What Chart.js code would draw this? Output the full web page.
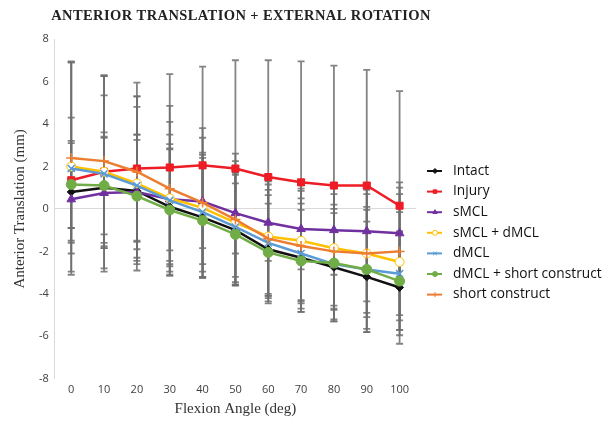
<!DOCTYPE html>
<html>
<head>
<meta charset="utf-8">
<script src="https://cdn.jsdelivr.net/npm/chart.js@4.4.1/dist/chart.umd.min.js"></script>
<style>
  html, body { margin: 0; padding: 0; background: #fff; }
  #wrap { width: 616px; height: 424px; }
</style>
</head>
<body>
<div id="wrap"><canvas id="chart" width="616" height="424"></canvas></div>
<script>
// Flexion angles (deg)
const angles = ['0', '10', '20', '30', '40', '50', '60', '70', '80', '90', '100'];

// Mean anterior translation (mm)
const intact       = [0.8, 1.0, 0.85, 0.1, -0.4, -1.0, -1.9, -2.3, -2.75, -3.2, -3.7];
const injury       = [1.35, 1.75, 1.9, 1.95, 2.05, 1.9, 1.5, 1.25, 1.1, 1.1, 0.15];
const smcl         = [0.45, 0.75, 0.8, 0.45, 0.35, -0.2, -0.65, -0.95, -1.0, -1.05, -1.15];
const smclDmcl     = [2.0, 1.75, 1.2, 0.5, 0.05, -0.65, -1.3, -1.5, -1.85, -2.1, -2.5];
const dmcl         = [1.9, 1.65, 1.1, 0.4, -0.15, -0.85, -1.6, -2.1, -2.6, -2.85, -3.05];
const dmclShort    = [1.15, 1.1, 0.6, -0.05, -0.55, -1.2, -2.05, -2.45, -2.55, -2.85, -3.4];
const shortConstr  = [2.4, 2.25, 1.75, 0.95, 0.3, -0.5, -1.4, -1.75, -2.0, -2.1, -2.0];

// Standard deviations (mm)
const intactSd      = [2.3, 2.6, 2.4, 2.7, 2.8, 2.6, 2.55, 2.55, 2.55, 2.6, 2.65];
const injurySd      = [2.95, 3.6, 3.4, 4.4, 4.65, 5.1, 5.5, 5.7, 5.65, 5.45, 5.4];
const smclSd        = [1.35, 2.6, 2.7, 2.4, 2.2, 1.9, 1.8, 1.9, 2.1, 2.2, 2.4];
const smclDmclSd    = [4.95, 4.55, 4.1, 3.6, 3.3, 2.9, 2.9, 2.8, 2.9, 3.0, 3.2];
const dmclSd        = [5.0, 4.6, 3.7, 3.1, 2.8, 2.6, 2.5, 2.6, 2.6, 2.8, 2.9];
const dmclShortSd   = [2.05, 2.3, 2.9, 3.1, 2.7, 2.4, 2.3, 2.4, 2.75, 2.95, 2.3];
const shortConstrSd = [4.5, 4.0, 4.2, 3.9, 3.5, 3.1, 2.7, 2.6, 2.7, 2.8, 3.0];

const yTicks = [-8, -6, -4, -2, 0, 2, 4, 6, 8];

function series(label, data, sd, color, style, radius, fill) {
    return {
        label: label,
        data: data,
        sd: sd,
        borderColor: color,
        backgroundColor: color,
        borderWidth: 2.5,
        pointStyle: style,
        pointRadius: radius,
        pointBorderColor: color,
        pointBackgroundColor: fill,
        pointBorderWidth: style === 'crossRot' || style === 'cross' ? 1.5 : 1,
        tension: 0
    };
}

const datasets = [
    series('Intact', intact, intactSd, '#111111', 'rectRot', 4, '#111111'),
    series('Injury', injury, injurySd, '#EE1C25', 'rect', 5, '#EE1C25'),
    series('sMCL', smcl, smclSd, '#7030A0', 'triangle', 5, '#7030A0'),
    series('sMCL + dMCL', smclDmcl, smclDmclSd, '#FFC000', 'circle', 4.5, '#ffffff'),
    series('dMCL', dmcl, dmclSd, '#5B9BD5', 'crossRot', 5, '#5B9BD5'),
    series('dMCL + short construct', dmclShort, dmclShortSd, '#70AD47', 'circle', 5, '#70AD47'),
    series('short construct', shortConstr, shortConstrSd, '#ED7D31', 'cross', 5, '#ED7D31')
];
// later series on top, as in the original
datasets.forEach((d, i) => { d.order = datasets.length - i; });

// error bars drawn under the lines
const errorBars = {
    id: 'errorBars',
    beforeDatasetsDraw(chart) {
        const ctx = chart.ctx;
        const x = chart.scales.x, y = chart.scales.y;
        ctx.save();
        ctx.strokeStyle = 'rgba(110,110,110,0.85)';
        ctx.lineWidth = 1.8;
        chart.data.datasets.forEach(ds => {
            ds.data.forEach((v, i) => {
                const px = x.getPixelForValue(i);
                const top = y.getPixelForValue(v + ds.sd[i]);
                const bot = y.getPixelForValue(v - ds.sd[i]);
                ctx.beginPath();
                ctx.moveTo(px, top); ctx.lineTo(px, bot);
                ctx.moveTo(px - 3.5, top); ctx.lineTo(px + 3.5, top);
                ctx.moveTo(px - 3.5, bot); ctx.lineTo(px + 3.5, bot);
                ctx.stroke();
            });
        });
        ctx.restore();
    }
};

// title and legend in the style of the original
const decorations = {
    id: 'decorations',
    afterDraw(chart) {
        const ctx = chart.ctx;
        ctx.save();
        ctx.fillStyle = '#222';
        ctx.font = 'bold 14.5px "Liberation Serif"';
        ctx.letterSpacing = '0.4px';
        ctx.textAlign = 'center';
        ctx.textBaseline = 'middle';
        ctx.fillText('ANTERIOR TRANSLATION + EXTERNAL ROTATION', 241, 16);
        ctx.letterSpacing = '0px';

        ctx.textAlign = 'left';
        ctx.font = '13.7px "Open Sans"';
        chart.data.datasets.forEach((ds, i) => {
            const cy = 171 + i * 20.6;
            ctx.strokeStyle = ds.borderColor;
            ctx.lineWidth = 2;
            ctx.beginPath();
            ctx.moveTo(427, cy); ctx.lineTo(442, cy);
            ctx.stroke();
            ctx.fillStyle = ds.pointBackgroundColor;
            ctx.strokeStyle = ds.borderColor;
            ctx.lineWidth = 1;
            Chart.helpers.drawPoint(ctx, {
                pointStyle: ds.pointStyle, radius: 2.5, rotation: 0, borderWidth: 1
            }, 435, cy);
            ctx.fillStyle = '#111';
            ctx.fillText(ds.label, 453, cy);
        });
        ctx.restore();
    }
};

new Chart(document.getElementById('chart').getContext('2d'), {
    type: 'line',
    data: { labels: angles, datasets: datasets },
    plugins: [errorBars, decorations],
    options: {
        responsive: false,
        animation: false,
        layout: { padding: { left: 11, right: 200, top: 39, bottom: 6 } },
        plugins: {
            legend: { display: false },
            tooltip: { enabled: false }
        },
        scales: {
            x: {
                type: 'category',
                offset: true,
                grid: { display: false, drawTicks: false },
                border: { display: false },
                ticks: { color: '#404040', font: { family: '"Open Sans"', size: 11 }, padding: 4, maxRotation: 0 },
                title: {
                    display: true, text: 'Flexion Angle (deg)', color: '#333',
                    font: { family: '"Liberation Serif"', size: 15 }, padding: { top: 0, bottom: 0 }
                }
            },
            y: {
                min: -8, max: 8,
                afterBuildTicks(axis) { axis.ticks = yTicks.map(v => ({ value: v })); },
                grid: {
                    drawTicks: false,
                    color: ctx => ctx.tick && ctx.tick.value === 0 ? '#d9d9d9' : 'rgba(0,0,0,0)',
                    lineWidth: 1
                },
                border: { display: true, color: '#d9d9d9' },
                ticks: { color: '#404040', font: { family: '"Open Sans"', size: 11 }, padding: 6 },
                title: {
                    display: true, text: 'Anterior Translation (mm)', color: '#333',
                    font: { family: '"Liberation Serif"', size: 15 }, padding: { top: 0, bottom: 4 }
                }
            }
        }
    }
});
</script>
</body>
</html>
